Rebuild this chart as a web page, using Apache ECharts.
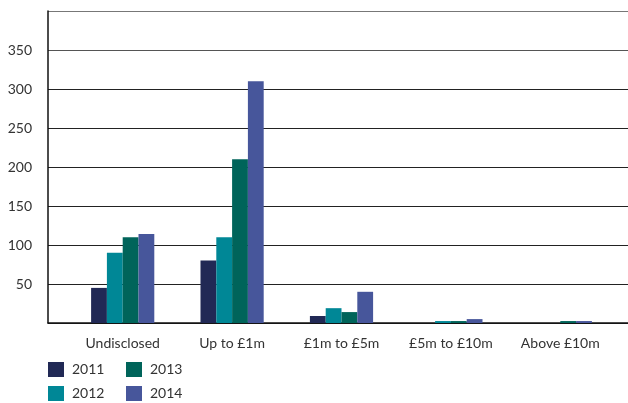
<!DOCTYPE html>
<html>
<head>
<meta charset="utf-8">
<script src="https://cdn.jsdelivr.net/npm/echarts@6/dist/echarts.min.js"></script>
<style>html,body{margin:0;padding:0;background:#fff}#c{width:628px;height:403px}</style>
</head>
<body>
<div id="c"></div>
<script>
const categories = ['Undisclosed', 'Up to £1m', '£1m to £5m', '£5m to £10m', 'Above £10m'];
const years = ['2011', '2012', '2013', '2014'];
const s2011 = [45, 80, 9, 0, 0];
const s2012 = [90, 110, 19, 2.5, 0];
const s2013 = [110, 210, 14, 2.5, 2.5];
const s2014 = [114, 310, 40, 5, 2.5];
const yTicks = [50, 100, 150, 200, 250, 300, 350];
const colors = ['#212955', '#008796', '#00645a', '#47569b'];
const seriesData = [s2011, s2012, s2013, s2014];

const font = 'Lato, "Open Sans", sans-serif';
const chart = echarts.init(document.getElementById('c'), null, {renderer: 'canvas'});
const legendText = {fontSize: 14, color: '#333', fontFamily: font, padding: [0, 0, 0, 3]};
chart.setOption({
  animation: false,
  textStyle: {fontFamily: font},
  grid: [
    {left: 48, right: 0, top: 11, bottom: 80},
    {left: 68, right: 13, top: 11, bottom: 80}
  ],
  legend: [
    {data: ['2011', '2012'], orient: 'vertical', left: 48, top: 362, padding: 0, itemWidth: 16, itemHeight: 15, itemGap: 9,
     icon: 'rect', textStyle: legendText, selectedMode: false},
    {data: ['2013', '2014'], orient: 'vertical', left: 126, top: 362, padding: 0, itemWidth: 16, itemHeight: 15, itemGap: 9,
     icon: 'rect', textStyle: legendText, selectedMode: false}
  ],
  xAxis: [
    {gridIndex: 0, type: 'value', min: 0, max: 1, show: true,
     axisLine: {show: true, lineStyle: {color: '#111', width: 1.5}},
     axisTick: {show: false}, axisLabel: {show: false}, splitLine: {show: false}},
    {gridIndex: 1, type: 'category', data: categories,
     axisLine: {show: false}, axisTick: {show: false},
     axisLabel: {fontSize: 14, color: '#333', margin: 13, fontFamily: font}}
  ],
  yAxis: [
    {gridIndex: 0, type: 'value', min: 0, max: 400, interval: 50,
     axisLine: {show: true, lineStyle: {color: '#111', width: 1.5}},
     axisTick: {show: false},
     axisLabel: {fontSize: 14, color: '#333', margin: 16, padding: [0, 0, 8, 0], fontFamily: font,
       formatter: v => yTicks.includes(v) ? String(v) : ''},
     splitLine: {show: true, lineStyle: {color: ['#222', '#222', '#222', '#222', '#222', '#222', '#222', '#555', '#777'], width: 1}}},
    {gridIndex: 1, type: 'value', min: 0, max: 400, show: false, splitLine: {show: false}}
  ],
  series: years.map((y, i) => ({
    name: y, type: 'bar', xAxisIndex: 1, yAxisIndex: 1,
    data: seriesData[i], barWidth: 15.8, barGap: '0%',
    itemStyle: {color: colors[i]}
  }))
});
</script>
</body>
</html>
